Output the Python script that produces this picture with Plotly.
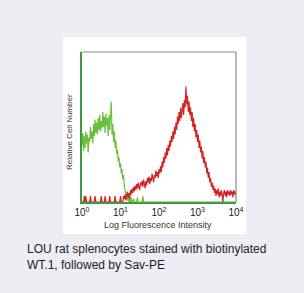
import numpy as np
import plotly.graph_objects as go

# Histogram channel values (log decades, step 0.02), relative counts 0-100
green_start = 0.0
green_counts = [38, 46, 34, 44, 36, 47, 39, 45, 33, 43,
                40, 50, 42, 47, 39, 52, 44, 55, 46, 53,
                45, 56, 48, 58, 47, 54, 49, 60, 50, 57,
                46, 59, 51, 56, 44, 58, 48, 55, 67, 45,
                52, 40, 47, 36, 41, 32, 35, 27, 30, 23,
                26, 19, 22, 15, 18, 10, 8, 3, 6, 1,
                4, 0, 2, 0, 3, 0, 0, 2, 0, 0,
                0, 0, 3, 0, 0, 0, 0, 0, 0, 4,
                0, 0, 0, 0, 0, 0, 0, 0, 0, 0,
                0, 0, 0, 0, 0, 0, 0, 0, 0, 0,
                0, 0, 0, 0, 0, 0, 0, 0, 0, 0,
                0, 0, 0, 0, 0, 0, 0, 0, 0, 0,
                0, 0, 0, 0, 0, 0, 0, 0, 0, 0,
                0, 0, 0, 0, 0, 0, 0, 0, 0, 0,
                0, 0, 0, 0, 0, 0, 0, 0, 0, 0,
                0, 0, 0, 0, 0, 0, 0, 0, 0, 0,
                0, 0, 0, 0, 0, 0, 0, 0, 0, 0,
                0, 0, 0, 0, 0, 0, 0, 0, 0, 0,
                0, 0, 0, 0, 0, 0, 0, 0, 0, 0,
                0, 0, 0, 0, 0, 0, 0, 0, 0, 0, 0]

red_start = 0.0
red_counts = [0, 0, 0, 4, 0, 4, 0, 0, 0, 0,
              0, 4, 0, 0, 0, 0, 0, 4, 0, 0,
              0, 0, 0, 0, 0, 4, 0, 0, 0, 0,
              4, 0, 0, 0, 0, 0, 4, 0, 0, 0,
              0, 0, 0, 4, 0, 0, 0, 0, 0, 0,
              4, 0, 0, 0, 4, 2,
              5, 1, 4, 7, 3, 6, 2, 8, 5, 9,
              6, 10, 7, 11, 8, 12, 9, 13, 10, 8,
              13, 11, 14, 10, 15, 12, 9, 14, 11, 16,
              13, 17, 12, 16, 14, 19, 15, 13, 18, 16,
              21, 17, 20, 16, 22, 19, 24, 20, 27, 23,
              30, 26, 33, 29, 36, 31, 38, 34, 41, 37,
              44, 40, 47, 42, 50, 45, 53, 48, 57, 52,
              60, 54, 63, 56, 61, 66, 58, 68, 63, 77,
              65, 71, 60, 67, 58, 63, 54, 60, 50, 56,
              47, 52, 43, 48, 40, 45, 36, 41, 33, 37,
              29, 34, 26, 30, 23, 27, 19, 23, 16, 20,
              13, 16, 10, 13, 8, 11, 6, 9, 4, 8,
              5, 9, 3, 7, 4, 8, 5, 0, 6, 8,
              4, 7, 3, 8, 5, 7, 4, 8, 5, 7,
              3, 8, 5, 7, 4]

tick_vals = [1, 10, 100, 1000, 10000]
tick_text = ["10<sup>0</sup>", "10<sup>1</sup>", "10<sup>2</sup>", "10<sup>3</sup>", "10<sup>4</sup>"]

step = 0.02
gx = [10 ** (green_start + i * step) for i in range(len(green_counts))]
rx = [10 ** (red_start + i * step) for i in range(len(red_counts))]

fig = go.Figure()
fig.add_trace(go.Scatter(x=gx, y=green_counts, mode="lines",
                         line=dict(color="#6cbf3e", width=1.2), showlegend=False))
fig.add_trace(go.Scatter(x=rx, y=red_counts, mode="lines",
                         line=dict(color="#d42525", width=1.2), showlegend=False))

W, H = 304, 293
L, R, T, B = 82, 236, 52, 202
pw, ph = R - L, B - T

def px(x):
    return (x - L) / pw

def py(y):
    return (B - y) / ph

shapes = [
    dict(type="rect", xref="paper", yref="paper", x0=px(63), x1=px(246), y0=py(234), y1=py(37),
         fillcolor="white", line=dict(width=0), layer="below"),
    dict(type="line", xref="paper", yref="paper", x0=0, x1=1, y0=1, y1=1,
         line=dict(color="#8a8a8a", width=1.2)),
    dict(type="line", xref="paper", yref="paper", x0=1, x1=1, y0=0, y1=1,
         line=dict(color="#8a8a8a", width=1.2)),
]

annotations = [
    dict(text="Relative Cell Number", xref="paper", yref="paper", x=px(69), y=py(132),
         textangle=-90, showarrow=False, font=dict(family="Liberation Sans, Arial", size=8, color="#333333"),
         xanchor="center", yanchor="middle"),
    dict(text="Log Fluorescence Intensity", xref="paper", yref="paper", x=px(158), y=py(225),
         showarrow=False, font=dict(family="Liberation Sans, Arial", size=9, color="#333333"),
         xanchor="center", yanchor="middle"),
    dict(text="LOU rat splenocytes stained with biotinylated<br>WT.1, followed by Sav-PE",
         xref="paper", yref="paper", x=px(25), y=py(240), showarrow=False, align="left",
         font=dict(family="Liberation Sans, Arial", size=12, color="#222222"),
         xanchor="left", yanchor="top"),
]

fig.update_layout(
    width=W, height=H,
    margin=dict(l=L, r=W - R, t=T, b=H - B, pad=0),
    paper_bgcolor="#eeedf3",
    plot_bgcolor="white",
    shapes=shapes,
    annotations=annotations,
    xaxis=dict(type="log", range=[0, 4], tickvals=tick_vals, ticktext=tick_text,
               showgrid=False, zeroline=False, showline=True, linecolor="#3f9a3f", linewidth=1.5,
               ticks="",
               tickfont=dict(family="Liberation Sans, Arial", size=10, color="#222222")),
    yaxis=dict(range=[0, 100], showticklabels=False, showgrid=False, zeroline=False,
               showline=True, linecolor="#3f9a3f", linewidth=1.5, ticks=""),
)

fig.write_html("out.html")
